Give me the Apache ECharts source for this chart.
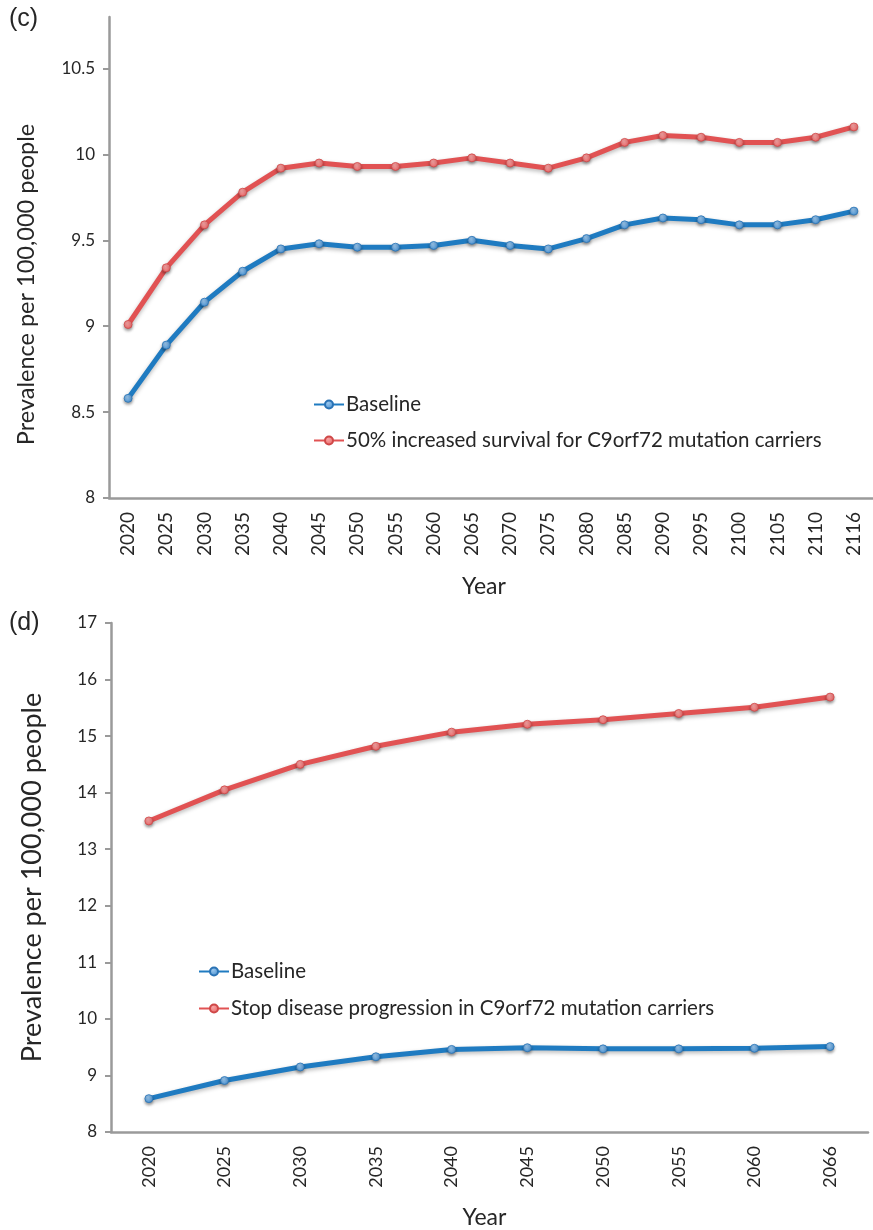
<!DOCTYPE html>
<html>
<head>
<meta charset="utf-8">
<script src="https://cdn.jsdelivr.net/npm/echarts@6/dist/echarts.min.js"></script>
<style>
  html, body { margin: 0; padding: 0; background: #ffffff; }
  #chart { width: 873px; height: 1230px; }
</style>
</head>
<body>
<div id="chart"></div>
<script>
// Panel (c): 50% increased survival scenario
const yearsC = ['2020','2025','2030','2035','2040','2045','2050','2055','2060','2065',
                '2070','2075','2080','2085','2090','2095','2100','2105','2110','2116'];
const baselineC = [8.58, 8.89, 9.14, 9.32, 9.45, 9.48, 9.46, 9.46, 9.47, 9.50,
                   9.47, 9.45, 9.51, 9.59, 9.63, 9.62, 9.59, 9.59, 9.62, 9.67];
const survivalC = [9.01, 9.34, 9.59, 9.78, 9.92, 9.95, 9.93, 9.93, 9.95, 9.98,
                   9.95, 9.92, 9.98, 10.07, 10.11, 10.10, 10.07, 10.07, 10.10, 10.16];
const yTicksC = [8, 8.5, 9, 9.5, 10, 10.5];

// Panel (d): stopping disease progression scenario
const yearsD = ['2020','2025','2030','2035','2040','2045','2050','2055','2060','2066'];
const baselineD = [8.59, 8.91, 9.15, 9.33, 9.46, 9.49, 9.47, 9.47, 9.48, 9.51];
const stopD = [13.50, 14.05, 14.50, 14.82, 15.07, 15.21, 15.29, 15.40, 15.51, 15.69];

const nameBaseline = 'Baseline';
const nameSurvival = '50% increased survival for C9orf72 mutation carriers';
const nameStop = 'Stop disease progression in C9orf72 mutation carriers';

const FONT = 'Lato';
const AXIS_GREY = '#9a9a9a';
const TEXT = '#262626';

const gridC = { left: 109, top: 17, width: 771, height: 481 };
const gridD = { left: 111, top: 623, width: 757, height: 510 };

const blue = '#1f7bc1';
const red = '#e15253';

function markerStyle(c0, c1, border) {
  return {
    color: { type: 'radial', x: 0.4, y: 0.35, r: 0.75,
             colorStops: [{ offset: 0, color: c0 }, { offset: 1, color: c1 }] },
    borderColor: border, borderWidth: 0.8,
    shadowColor: 'rgba(0,0,0,0.35)', shadowBlur: 3, shadowOffsetY: 2
  };
}
const blueMarker = markerStyle('#9cc8ee', '#3d88cb', '#2a73b5');
const redMarker = markerStyle('#f8a5a5', '#e65e5f', '#cf4848');

function lineStyle(c) {
  return { color: c, width: 5, shadowColor: 'rgba(0,0,0,0.28)', shadowBlur: 4, shadowOffsetY: 2 };
}

function mainX(gridIndex, data, nameGap, namePad, labelSize) {
  return {
    type: 'category', gridIndex: gridIndex, data: data, boundaryGap: true,
    position: 'bottom',
    name: 'Year', nameLocation: 'middle', nameGap: nameGap,
    nameTextStyle: { fontFamily: FONT, fontSize: 23, color: TEXT, padding: namePad },
    axisLine: { lineStyle: { color: AXIS_GREY, width: 2.5 } },
    axisTick: { alignWithLabel: true, length: 6, lineStyle: { color: AXIS_GREY, width: 2 } },
    axisLabel: { rotate: 90, margin: 14, fontFamily: FONT, fontSize: labelSize, color: TEXT, interval: 0 },
    splitLine: { show: false }
  };
}
// second category axis that only draws the upward half of the crossing tick marks
function tickX(gridIndex, data, height) {
  return {
    type: 'category', gridIndex: gridIndex, data: data, boundaryGap: true,
    position: 'top', offset: -height,
    axisLine: { show: false },
    axisTick: { alignWithLabel: true, length: 6, lineStyle: { color: AXIS_GREY, width: 2 } },
    axisLabel: { show: false },
    splitLine: { show: false }
  };
}

const legendText = { fontFamily: FONT, fontSize: 20.5, color: TEXT, lineHeight: 20, padding: [0, 0, 0, -3] };

const option = {
  backgroundColor: '#ffffff',
  animation: false,
  title: [
    { text: '(c)', left: 9, top: 7, padding: 0,
      textStyle: { fontFamily: 'Liberation Sans', fontSize: 25, fontWeight: 'normal', color: TEXT } },
    { text: '(d)', left: 9, top: 611, padding: 0,
      textStyle: { fontFamily: 'Liberation Sans', fontSize: 25, fontWeight: 'normal', color: TEXT } }
  ],
  legend: [
    { orient: 'vertical', left: 313, top: 394, padding: 0, itemGap: 15,
      itemWidth: 30, itemHeight: 10, data: [nameBaseline, nameSurvival], textStyle: legendText },
    { orient: 'vertical', left: 198, top: 961, padding: 0, itemGap: 16,
      itemWidth: 30, itemHeight: 10, data: [nameBaseline, nameStop], textStyle: legendText }
  ],
  grid: [gridC, gridD],
  xAxis: [
    mainX(0, yearsC, 77, [0, 14, 0, 0], 19),
    mainX(1, yearsD, 74, [0, 10, 0, 0], 18),
    tickX(0, yearsC, gridC.height),
    tickX(1, yearsD, gridD.height)
  ],
  yAxis: [
    { type: 'value', gridIndex: 0, min: 8, max: 10.8,
      name: 'Prevalence per 100,000 people', nameLocation: 'middle', nameGap: 71, nameRotate: 90,
      nameTextStyle: { fontFamily: FONT, fontSize: 23.5, color: TEXT, padding: [0, 54, 0, 0] },
      axisLine: { show: true, lineStyle: { color: AXIS_GREY, width: 2.5 } },
      axisTick: { show: true, length: 6, customValues: yTicksC, lineStyle: { color: AXIS_GREY, width: 2 } },
      axisLabel: { margin: 14, customValues: yTicksC, fontFamily: FONT, fontSize: 17, color: TEXT },
      splitLine: { show: false } },
    { type: 'value', gridIndex: 1, min: 8, max: 17, interval: 1,
      name: 'Prevalence per 100,000 people', nameLocation: 'middle', nameGap: 65, nameRotate: 90,
      nameTextStyle: { fontFamily: FONT, fontSize: 27, color: TEXT },
      axisLine: { show: true, lineStyle: { color: AXIS_GREY, width: 2.5 } },
      axisTick: { show: true, length: 6, lineStyle: { color: AXIS_GREY, width: 2 } },
      axisLabel: { margin: 14, fontFamily: FONT, fontSize: 17, color: TEXT },
      splitLine: { show: false } }
  ],
  series: [
    { name: nameBaseline, type: 'line', xAxisIndex: 0, yAxisIndex: 0, data: baselineC,
      symbol: 'circle', symbolSize: 8, lineStyle: lineStyle(blue), itemStyle: blueMarker, z: 3 },
    { name: nameSurvival, type: 'line', xAxisIndex: 0, yAxisIndex: 0, data: survivalC,
      symbol: 'circle', symbolSize: 8, lineStyle: lineStyle(red), itemStyle: redMarker, z: 3 },
    { name: nameBaseline, type: 'line', xAxisIndex: 1, yAxisIndex: 1, data: baselineD,
      symbol: 'circle', symbolSize: 8, lineStyle: lineStyle(blue), itemStyle: blueMarker, z: 3 },
    { name: nameStop, type: 'line', xAxisIndex: 1, yAxisIndex: 1, data: stopD,
      symbol: 'circle', symbolSize: 8, lineStyle: lineStyle(red), itemStyle: redMarker, z: 3 }
  ]
};

const chart = echarts.init(document.getElementById('chart'), null, { renderer: 'canvas' });
chart.setOption(option);
</script>
</body>
</html>
